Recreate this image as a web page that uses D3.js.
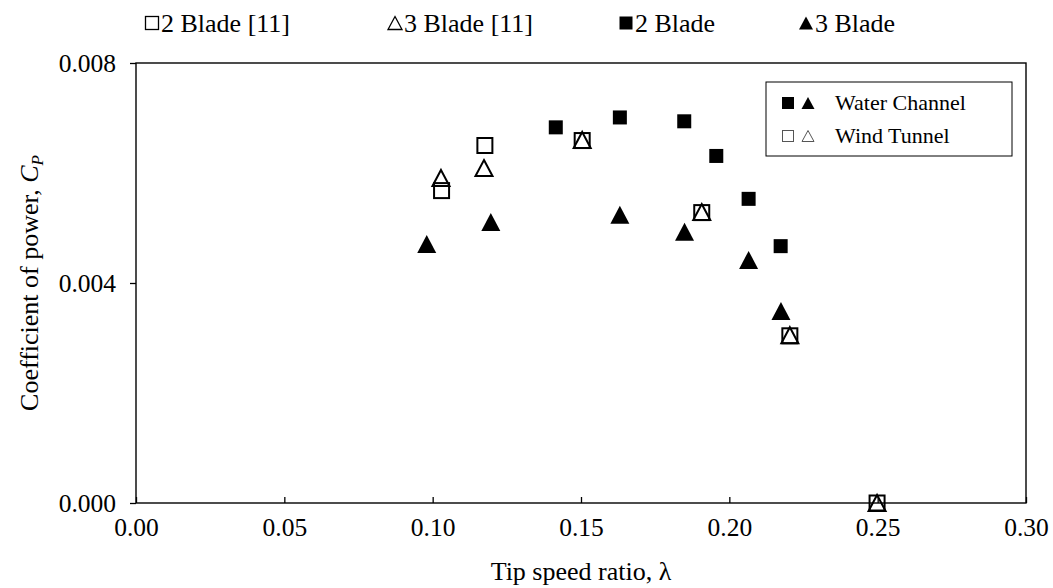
<!DOCTYPE html>
<html>
<head>
<meta charset="utf-8">
<script src="https://cdn.jsdelivr.net/npm/d3@7"></script>
<style>
  body { margin: 0; background: #fff; }
</style>
</head>
<body>
<div class="chart"></div>
<script>
// Data
var tsr2Blade = [0.1415, 0.1631, 0.1848, 0.1956, 0.2065, 0.2173];
var cp2Blade = [0.00683, 0.00701, 0.00694, 0.00631, 0.00553, 0.00467];
var tsr3Blade = [0.0980, 0.1196, 0.1631, 0.1849, 0.2065, 0.2174];
var cp3Blade = [0.00471, 0.00511, 0.00524, 0.00493, 0.00442, 0.00349];
var tsr2BladeRef = [0.1030, 0.1176, 0.1504, 0.1907, 0.2204, 0.2498];
var cp2BladeRef = [0.00568, 0.00650, 0.00659, 0.00528, 0.00304, 0.0];
var tsr3BladeRef = [0.1028, 0.1173, 0.1504, 0.1907, 0.2204, 0.2498];
var cp3BladeRef = [0.00591, 0.00609, 0.00660, 0.00529, 0.00305, 0.0];

var xTicks = [0, 0.05, 0.10, 0.15, 0.20, 0.25, 0.30];
var yTicks = [0, 0.004, 0.008];
var topLegend = ["2 Blade [11]", "3 Blade [11]", "2 Blade", "3 Blade"];
var boxLegend = ["Water Channel", "Wind Tunnel"];

var FONT = "Liberation Serif";

var svgWidth = 1053;
var svgHeight = 588;
var margin = { top: 63, right: 27, bottom: 85, left: 136 };
var width = svgWidth - margin.left - margin.right;
var height = svgHeight - margin.top - margin.bottom;

var svg = d3.select(".chart")
  .append("svg")
  .attr("width", svgWidth)
  .attr("height", svgHeight)
  .style("font-family", FONT);

var chartGroup = svg.append("g")
  .attr("transform", `translate(${margin.left}, ${margin.top})`);

var xScale = d3.scaleLinear().domain([0, 0.3]).range([0, width]);
var yScale = d3.scaleLinear().domain([0, 0.008]).range([height, 0]);

function zip(xs, ys) {
  return xs.map((x, i) => ({ x: x, y: ys[i] }));
}

function triPath(cx, cy, w, h) {
  return `M${cx},${cy - h / 2}L${cx + w / 2},${cy + h / 2}L${cx - w / 2},${cy + h / 2}Z`;
}

// Axes
var xAxis = d3.axisBottom(xScale)
  .tickValues(xTicks)
  .tickFormat(d3.format(".2f"))
  .tickSizeInner(-6)
  .tickSizeOuter(0)
  .tickPadding(15);

var yAxis = d3.axisLeft(yScale)
  .tickValues(yTicks)
  .tickFormat(d3.format(".3f"))
  .tickSizeInner(6)
  .tickSizeOuter(0)
  .tickPadding(14);

var gx = chartGroup.append("g")
  .attr("transform", `translate(0, ${height})`)
  .call(xAxis);
var gy = chartGroup.append("g").call(yAxis);

[gx, gy].forEach(function(g) {
  g.attr("font-family", null).attr("font-size", null);
  g.select(".domain").remove();
  g.selectAll("line").attr("stroke", "#000").attr("stroke-width", 1.3);
  g.selectAll("text")
    .style("font-family", FONT)
    .style("font-size", "25.5px")
    .attr("fill", "#000");
});

// plot frame
chartGroup.append("rect")
  .attr("x", 0).attr("y", 0)
  .attr("width", width).attr("height", height)
  .attr("fill", "none")
  .attr("stroke", "#000")
  .attr("stroke-width", 1.4);

// Axis titles
svg.append("text")
  .attr("x", margin.left + width / 2)
  .attr("y", 580)
  .attr("text-anchor", "middle")
  .style("font-family", FONT)
  .style("font-size", "26px")
  .text("Tip speed ratio, λ");

var yTitle = svg.append("text")
  .attr("transform", `translate(38, ${margin.top + height / 2}) rotate(-90)`)
  .attr("text-anchor", "middle")
  .style("font-family", FONT)
  .style("font-size", "26px");
yTitle.append("tspan").text("Coefficient of power, ");
yTitle.append("tspan").attr("font-style", "italic").text("C");
yTitle.append("tspan").attr("font-style", "italic").style("font-size", "17px").attr("dy", 5).text("P");

// Markers
chartGroup.selectAll(".ref2")
  .data(zip(tsr2BladeRef, cp2BladeRef))
  .enter()
  .append("rect")
  .attr("x", d => xScale(d.x) - 7.5)
  .attr("y", d => yScale(d.y) - 7.5)
  .attr("width", 15).attr("height", 15)
  .attr("fill", "none").attr("stroke", "#000").attr("stroke-width", 2);

chartGroup.selectAll(".ref3")
  .data(zip(tsr3BladeRef, cp3BladeRef))
  .enter()
  .append("path")
  .attr("d", d => triPath(xScale(d.x), yScale(d.y), 17, 16))
  .attr("fill", "none").attr("stroke", "#000").attr("stroke-width", 2)
  .attr("stroke-linejoin", "miter");

chartGroup.selectAll(".wc2")
  .data(zip(tsr2Blade, cp2Blade))
  .enter()
  .append("rect")
  .attr("x", d => xScale(d.x) - 7)
  .attr("y", d => yScale(d.y) - 7)
  .attr("width", 14).attr("height", 14)
  .attr("fill", "#000");

chartGroup.selectAll(".wc3")
  .data(zip(tsr3Blade, cp3Blade))
  .enter()
  .append("path")
  .attr("d", d => triPath(xScale(d.x), yScale(d.y), 19, 18))
  .attr("fill", "#000");

// Top legend
var topItems = [
  { x: 152, shape: "sq", fill: false },
  { x: 395, shape: "tri", fill: false },
  { x: 626, shape: "sq", fill: true },
  { x: 806, shape: "tri", fill: true }
];
var ly = 23;
topItems.forEach(function(it, i) {
  if (it.shape === "sq") {
    svg.append("rect")
      .attr("x", it.x - 6.5).attr("y", ly - 6.5)
      .attr("width", 13).attr("height", 13)
      .attr("fill", it.fill ? "#000" : "none")
      .attr("stroke", "#000").attr("stroke-width", it.fill ? 0 : 1.3);
  } else {
    svg.append("path")
      .attr("d", triPath(it.x, ly, 14, 13))
      .attr("fill", it.fill ? "#000" : "none")
      .attr("stroke", "#000").attr("stroke-width", it.fill ? 0 : 1.3);
  }
  svg.append("text")
    .attr("x", it.x + 9)
    .attr("y", ly + 9)
    .style("font-family", FONT)
    .style("font-size", "26px")
    .text(topLegend[i]);
});

// Inner legend box
var bx = 766, by = 82, bw = 246, bh = 74;
svg.append("rect")
  .attr("x", bx).attr("y", by)
  .attr("width", bw).attr("height", bh)
  .attr("fill", "#fff").attr("stroke", "#000").attr("stroke-width", 1);

var rowY = [103, 136];
svg.append("rect").attr("x", 782).attr("y", rowY[0] - 6).attr("width", 12).attr("height", 12).attr("fill", "#000");
svg.append("path").attr("d", triPath(808, rowY[0], 13, 12)).attr("fill", "#000");
svg.append("rect").attr("x", 782.5).attr("y", rowY[1] - 5.5).attr("width", 11).attr("height", 11)
  .attr("fill", "none").attr("stroke", "#555").attr("stroke-width", 1);
svg.append("path").attr("d", triPath(808, rowY[1], 12, 11))
  .attr("fill", "none").attr("stroke", "#555").attr("stroke-width", 1);

boxLegend.forEach(function(t, i) {
  svg.append("text")
    .attr("x", 835)
    .attr("y", rowY[i] + 7)
    .style("font-family", FONT)
    .style("font-size", "22px")
    .text(t);
});
</script>
</body>
</html>
